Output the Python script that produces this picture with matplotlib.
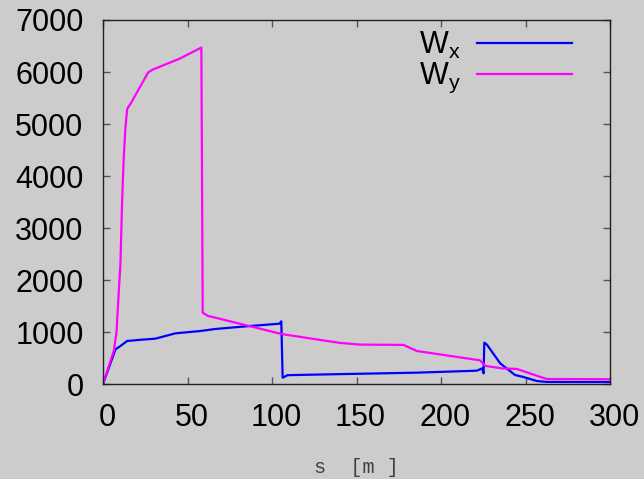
import matplotlib
matplotlib.use("Agg")
import matplotlib.pyplot as plt
from matplotlib.transforms import ScaledTranslation

# ---- data ----
s_wx = [0, 7.4, 10.3, 14.3, 22, 31, 42.8, 57.6, 66.5, 85, 104.5, 105.5, 106.3, 109.2,
        140.4, 185.7, 221.2, 224.3, 225.2, 225.6, 227.1, 235.0, 243.8, 248.7, 256.6,
        262.5, 280, 300]
wx = [0, 667, 730, 827, 850, 872, 974, 1019, 1058, 1110, 1160, 1205, 121, 170,
      190, 218, 256, 300, 205, 795, 760, 398, 173, 135, 58, 40, 38, 38]

s_wy = [0, 6.4, 8.0, 9.2, 10.3, 11.3, 12.2, 13.2, 14.3, 16.3, 26.7, 29.0, 41.9, 44.8,
        58.2, 59.0, 62.0, 65.5, 105.9, 128.7, 140.4, 152.2, 177.8, 185.7, 223.1,
        226.1, 236.0, 244.8, 262.5, 300]
wy = [0, 640, 1000, 1700, 2300, 3500, 4300, 4900, 5290, 5390, 5990, 6040, 6212, 6248,
      6470, 1372, 1310, 1283, 960, 846, 790, 758, 752, 635, 455,
      350, 300, 290, 96, 92]

x_ticks = [0, 50, 100, 150, 200, 250, 300]
y_ticks = [0, 1000, 2000, 3000, 4000, 5000, 6000, 7000]

BG = "#cccccc"
plt.rcParams["font.family"] = ["Liberation Sans", "DejaVu Sans"]
plt.rcParams["mathtext.default"] = "regular"

fig = plt.figure(figsize=(6.44, 4.79), dpi=100, facecolor=BG)
ax = fig.add_axes([103 / 644, 1 - 384 / 479, (610 - 103) / 644, (384 - 20) / 479])
ax.set_facecolor(BG)

ax.plot(s_wx, wx, color="#0000ff", lw=1.6, label="W$_x$")
ax.plot(s_wy, wy, color="#ff00ff", lw=1.6, label="W$_y$")

ax.set_xlim(0, 300)
ax.set_ylim(0, 7000)
ax.set_xticks(x_ticks)
ax.set_yticks(y_ticks)
ax.tick_params(direction="in", length=5, width=1.0, color="#555555",
               top=True, right=True, labelsize=22, labelcolor="black")
ax.tick_params(axis="x", pad=14)
ax.tick_params(axis="y", pad=14)
for sp in ax.spines.values():
    sp.set_color("#202020")
    sp.set_linewidth(1.0)

# gnuplot-like small rightward offset of x tick labels
shift = ScaledTranslation(4 / 100, 0, fig.dpi_scale_trans)
for lbl in ax.get_xticklabels():
    lbl.set_transform(lbl.get_transform() + shift)

ax.set_xlabel("s  [m ]", family=["Liberation Mono", "DejaVu Sans Mono"],
              fontsize=14.5, color="#404040", labelpad=18)

leg = ax.legend(loc="upper right", bbox_to_anchor=(572 / 644, 1 - 30 / 479),
                bbox_transform=fig.transFigure,
                frameon=False, markerfirst=False, fontsize=22,
                handlelength=3.1, handletextpad=0.55, labelspacing=0.0,
                borderpad=0.0, borderaxespad=0.0)

fig.savefig("out.png", dpi=100, facecolor=BG)
